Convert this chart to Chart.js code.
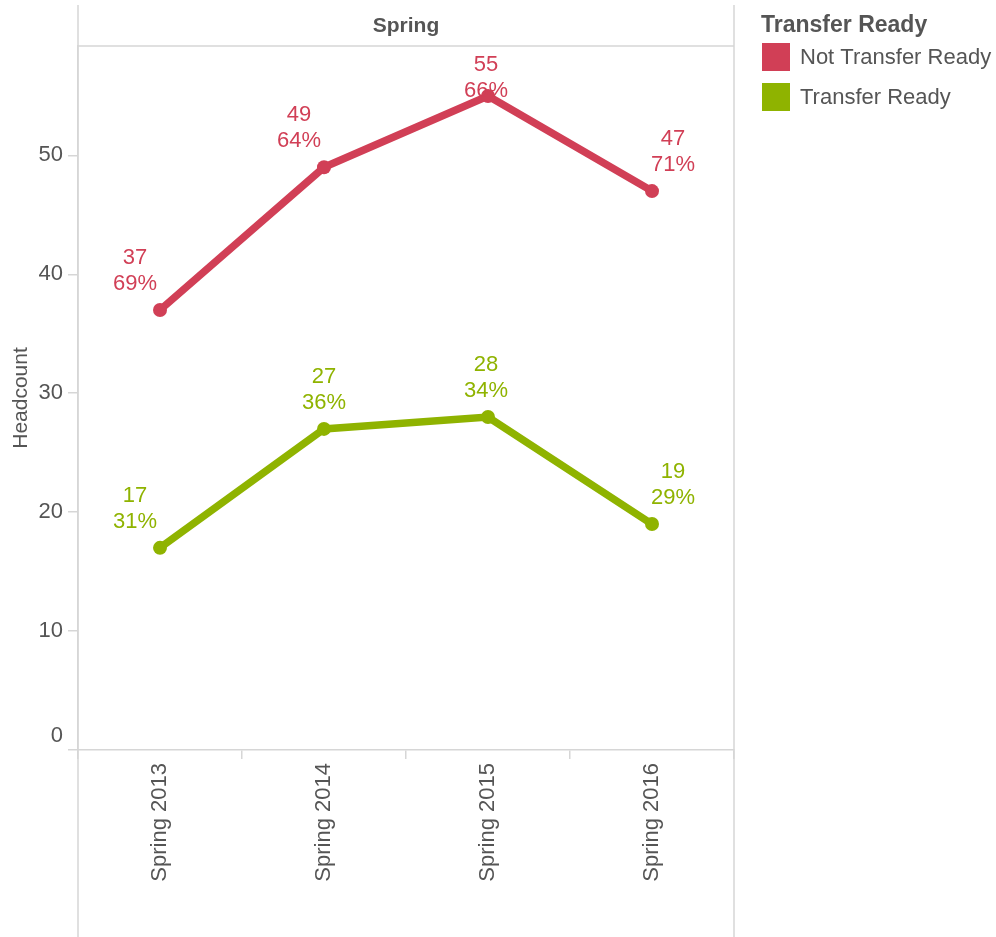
<!DOCTYPE html>
<html>
<head>
<meta charset="utf-8">
<script src="https://cdn.jsdelivr.net/npm/chart.js@4/dist/chart.umd.min.js"></script>
<style>
	html, body { margin: 0; padding: 0; background: #fff; }
	#wrap { width: 996px; height: 937px; position: relative; }
</style>
</head>
<body>
<div id="wrap"><canvas id="myChart" width="996" height="937"></canvas></div>
<script>
	/* data */
	var terms = ['Spring 2013', 'Spring 2014', 'Spring 2015', 'Spring 2016'];
	var notReady = [37, 49, 55, 47];
	var ready = [17, 27, 28, 19];
	var seriesNames = ['Not Transfer Ready', 'Transfer Ready'];
	var yTicks = [0, 10, 20, 30, 40, 50];

	var RED = '#d13f56', GREEN = '#8fb300', INK = '#555555', RULE = '#d6d6d6';
	var FONT = '"Liberation Sans", Arial, sans-serif';

	/* where each value label sits relative to its point [dx, dy] */
	var labelShift = [
		[[-25, 0], [-25, 0], [-2, 21], [21, 0]],
		[[-25, 0], [0, 0], [-2, 0], [21, 0]]
	];

	/* header band, frame and legend drawn around the chart area */
	var framePlugin = {
		id: 'frame',
		beforeDraw: function(chart) {
			var c = chart.ctx, a = chart.chartArea;
			c.save();
			c.fillStyle = '#fff';
			c.fillRect(0, 0, chart.width, chart.height);
			c.strokeStyle = RULE;
			c.lineWidth = 1.5;
			c.beginPath();
			c.moveTo(a.left, 5); c.lineTo(a.left, chart.height);
			c.moveTo(a.right, 5); c.lineTo(a.right, chart.height);
			c.moveTo(a.left, a.top); c.lineTo(a.right, a.top);
			c.stroke();
			c.fillStyle = INK;
			c.font = 'bold 21px ' + FONT;
			c.textAlign = 'center';
			c.textBaseline = 'middle';
			c.fillText('Spring', (a.left + a.right) / 2, 26);
			c.restore();
		},
		afterDraw: function(chart) {
			var c = chart.ctx, y0 = chart.scales.y;
			c.save();
			/* tableau lifts the zero label above its tick */
			c.fillStyle = INK;
			c.font = '22px ' + FONT;
			c.textAlign = 'right';
			c.textBaseline = 'middle';
			c.fillText('0', 63, y0.getPixelForValue(0) - 14);

			c.textAlign = 'left';
			c.font = 'bold 23px ' + FONT;
			c.fillText('Transfer Ready', 761, 26);
			chart.data.datasets.forEach(function(ds, i) {
				var y = 43 + i * 40;
				c.fillStyle = ds.borderColor;
				c.fillRect(762, y, 28, 28);
				c.fillStyle = INK;
				c.font = '22px ' + FONT;
				c.fillText(ds.label, 800, y + 15);
			});
			c.restore();
		}
	};

	/* value + share labels above the points */
	var labelPlugin = {
		id: 'valueLabels',
		afterDatasetsDraw: function(chart) {
			var c = chart.ctx, sets = chart.data.datasets;
			c.save();
			c.font = '22px ' + FONT;
			c.textAlign = 'center';
			c.textBaseline = 'middle';
			sets.forEach(function(ds, i) {
				var meta = chart.getDatasetMeta(i);
				meta.data.forEach(function(pt, j) {
					var total = sets.reduce(function(s, d) { return s + d.data[j]; }, 0);
					var pct = Math.round(ds.data[j] / total * 100) + '%';
					var sh = labelShift[i][j];
					c.fillStyle = ds.borderColor;
					c.fillText(ds.data[j], pt.x + sh[0], pt.y - 52 + sh[1]);
					c.fillText(pct, pt.x + sh[0], pt.y - 26 + sh[1]);
				});
			});
			c.restore();
		}
	};

	var ctx = document.getElementById('myChart').getContext('2d');
	var myChart = new Chart(ctx, {
		type: 'line',
		data: {
			labels: terms,
			datasets: [{
				label: seriesNames[0],
				data: notReady,
				borderColor: RED,
				backgroundColor: RED,
				borderWidth: 7.5,
				pointRadius: 7,
				pointBorderWidth: 0,
				tension: 0
			}, {
				label: seriesNames[1],
				data: ready,
				borderColor: GREEN,
				backgroundColor: GREEN,
				borderWidth: 7.5,
				pointRadius: 7,
				pointBorderWidth: 0,
				tension: 0
			}]
		},
		options: {
			responsive: false,
			animation: false,
			layout: { padding: { top: 46, right: 262, left: 0, bottom: 0 } },
			plugins: { legend: { display: false }, tooltip: { enabled: false } },
			scales: {
				x: {
					offset: true,
					border: { color: RULE, width: 1.5 },
					grid: { offset: true, drawOnChartArea: false, color: RULE, tickLength: 9, lineWidth: 1.5 },
					ticks: {
						color: INK, font: { size: 22, family: FONT },
						maxRotation: 90, minRotation: 90, padding: 4
					},
					afterFit: function(scale) { scale.height = 187; }
				},
				y: {
					min: 0, max: 59.2,
					afterBuildTicks: function(scale) {
						scale.ticks = yTicks.map(function(v) { return { value: v }; });
					},
					border: { color: RULE, width: 1.5 },
					grid: { drawOnChartArea: false, color: RULE, tickLength: 10, lineWidth: 1.5 },
					ticks: {
						color: INK, font: { size: 22, family: FONT }, padding: 5,
						callback: function(v) { return v === 0 ? '' : v; }
					},
					title: {
						display: true, text: 'Headcount', color: INK,
						font: { size: 21, family: FONT }, padding: { top: 9, bottom: 0 }
					},
					afterFit: function(scale) { scale.width = 78; }
				}
			}
		},
		plugins: [framePlugin, labelPlugin]
	});
</script>
</body>
</html>
